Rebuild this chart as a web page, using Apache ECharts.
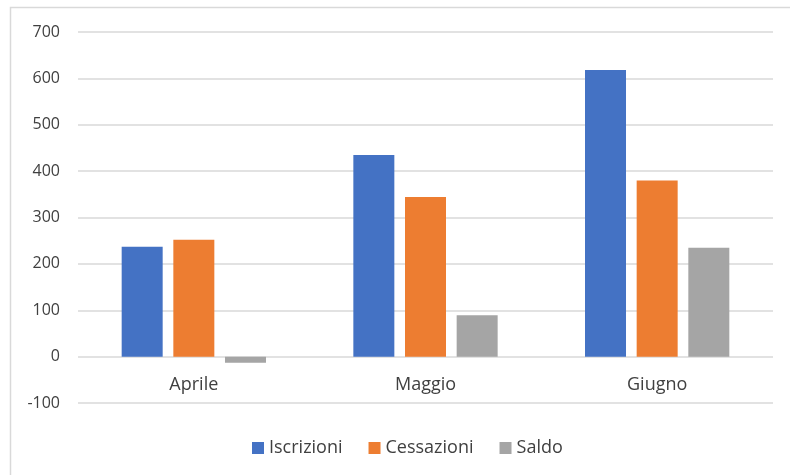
<!DOCTYPE html>
<html>
<head>
<meta charset="utf-8">
<script src="https://cdn.jsdelivr.net/npm/echarts@6/dist/echarts.min.js"></script>
<style>
  html, body { margin: 0; padding: 0; background: #fff; }
  #chart { width: 790px; height: 475px; }
</style>
</head>
<body>
<div id="chart"></div>
<script>
const months = ['Aprile', 'Maggio', 'Giugno']
const iscrizioni = [237, 435, 618]
const cessazioni = [252, 344, 380]
const saldo = [-13, 89, 235]
const seriesNames = ['Iscrizioni', 'Cessazioni', 'Saldo']
const colors = ['#4472C4', '#ED7D31', '#A5A5A5']

const chart = echarts.init(document.getElementById('chart'))
const font = "'Open Sans', sans-serif"

chart.setOption({
  animation: false,
  color: colors,
  graphic: [{
    type: 'polyline',
    shape: { points: [[10.5, 480], [10.5, 7.5], [800, 7.5]] },
    style: { stroke: '#d9d9d9', lineWidth: 1.5, fill: null },
  }],
  legend: {
    data: seriesNames,
    top: 434,
    left: 247,
    itemWidth: 12,
    itemHeight: 12,
    itemGap: 26,
    icon: 'rect',
    textStyle: { fontFamily: font, fontSize: 18, color: '#404040' },
  },
  grid: { left: 78, right: 17, top: 32, bottom: 72 },
  xAxis: {
    type: 'category',
    data: months,
    // labels sit just under the zero line, as in the source
    axisLine: { show: false },
    axisTick: { show: false },
    axisLabel: { fontFamily: font, fontSize: 18, color: '#404040', margin: -27 },
  },
  yAxis: {
    type: 'value',
    min: -100,
    max: 700,
    interval: 100,
    axisLine: { show: false },
    axisTick: { show: false },
    splitLine: { lineStyle: { color: '#d9d9d9', width: 1.5 } },
    axisLabel: { fontFamily: font, fontSize: 16, color: '#404040', margin: 18 },
  },
  series: [
    { name: seriesNames[0], type: 'bar', data: iscrizioni, barWidth: 41, barGap: '26%' },
    { name: seriesNames[1], type: 'bar', data: cessazioni, barWidth: 41, barGap: '26%' },
    { name: seriesNames[2], type: 'bar', data: saldo, barWidth: 41, barGap: '26%' },
  ],
})
</script>
</body>
</html>
